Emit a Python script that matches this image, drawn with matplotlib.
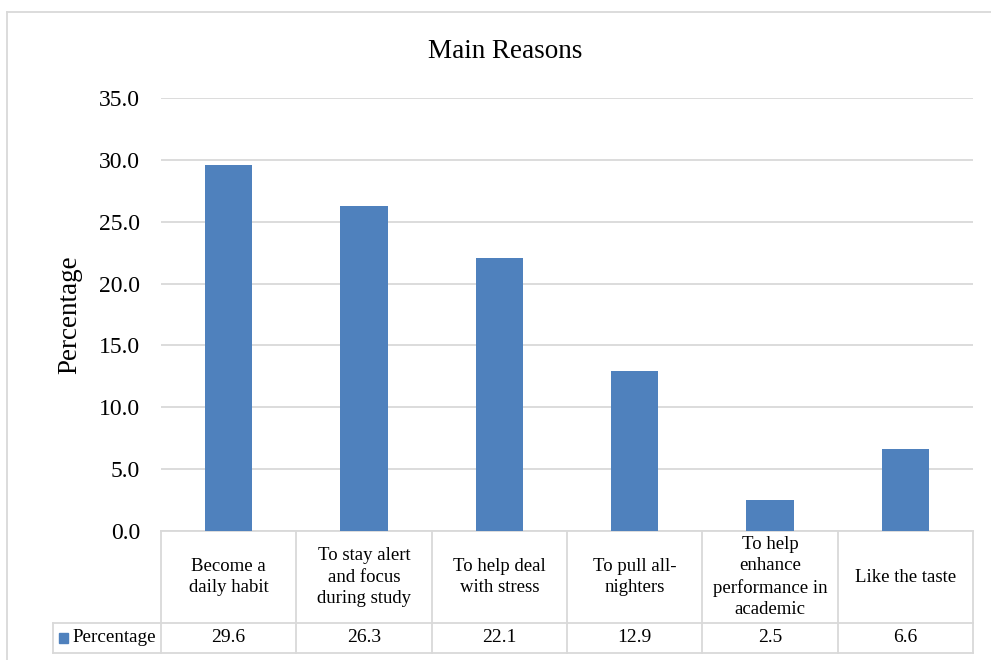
import numpy as np
import matplotlib.pyplot as plt
from matplotlib.patches import Rectangle
from matplotlib.transforms import blended_transform_factory

# data
reasons = [
    "Become a\ndaily habit",
    "To stay alert\nand focus\nduring study",
    "To help deal\nwith stress",
    "To pull all-\nnighters",
    "To help\nenhance\nperformance in\nacademic",
    "Like the taste",
]
percentage = [29.6, 26.3, 22.1, 12.9, 2.5, 6.6]
series_name = "Percentage"
y_ticks = [0, 5, 10, 15, 20, 25, 30, 35]

BAR_COLOR = "#4F81BD"
GRID_COLOR = "#D9D9D9"

plt.rcParams["font.family"] = ["Liberation Serif", "DejaVu Serif"]

W, H = 991, 660
fig = plt.figure(figsize=(W / 100, H / 100), dpi=100)

# plot area in pixels
left, right, top, bottom = 161, 973, 98, 531
ax = fig.add_axes([left / W, 1 - bottom / H, (right - left) / W, (bottom - top) / H])

x = np.arange(len(reasons))
ax.bar(x, percentage, width=0.35, color=BAR_COLOR, zorder=3)

ax.set_xlim(-0.5, len(reasons) - 0.5)
ax.set_ylim(0, 35)
ax.set_yticks(y_ticks)
ax.set_yticklabels([f"{v:.1f}" for v in y_ticks], fontsize=17)
ax.set_xticks([])
ax.tick_params(axis="y", length=0, pad=15)
ax.grid(axis="y", color=GRID_COLOR, linewidth=1.3, zorder=0)
for s in ["top", "right", "left"]:
    ax.spines[s].set_visible(False)
ax.spines["bottom"].set_color(GRID_COLOR)
ax.spines["bottom"].set_linewidth(1.3)

ax.set_ylabel("Percentage", fontsize=19.5, labelpad=12)
fig.text(505 / W, 1 - 51 / H, "Main Reasons", ha="center", va="center", fontsize=19.5)

# ---- data table under the axis ----
tr = blended_transform_factory(ax.transData, ax.transAxes)
ph = bottom - top
def ya(py):
    return (bottom - py) / ph

row1 = ya(623)
row2 = ya(653)
col_w = (right - left) / len(reasons)
x_lab = -0.5 - (left - 53) / col_w
n = len(reasons)

lk = dict(color=GRID_COLOR, linewidth=1.3, transform=tr, clip_on=False)
for k in range(n + 1):
    ax.plot([k - 0.5, k - 0.5], [0, row2], **lk)
ax.plot([x_lab, x_lab], [row1, row2], **lk)
ax.plot([x_lab, n - 0.5], [row1, row1], **lk)
ax.plot([x_lab, n - 0.5], [row2, row2], **lk)

for i, (r, v) in enumerate(zip(reasons, percentage)):
    ax.text(i, (0 + row1) / 2, r, ha="center", va="center", fontsize=13.5,
            linespacing=1.32, transform=tr)
    ax.text(i, (row1 + row2) / 2, f"{v:.1f}", ha="center", va="center",
            fontsize=14, transform=tr)

fig.patches.append(Rectangle((59 / W, 1 - 643 / H), 9 / W, 10 / H,
                             color=BAR_COLOR, transform=fig.transFigure))
fig.text(72 / W, 1 - 638 / H, series_name, ha="left", va="center", fontsize=13.7)

# outer chart border (top and left edges visible)
fig.add_artist(plt.Line2D([7 / W, 1.0], [1 - 12 / H, 1 - 12 / H],
                          color=GRID_COLOR, linewidth=1.3, transform=fig.transFigure))
fig.add_artist(plt.Line2D([7 / W, 7 / W], [0, 1 - 12 / H],
                          color=GRID_COLOR, linewidth=1.3, transform=fig.transFigure))

fig.savefig("out.png", dpi=100)
